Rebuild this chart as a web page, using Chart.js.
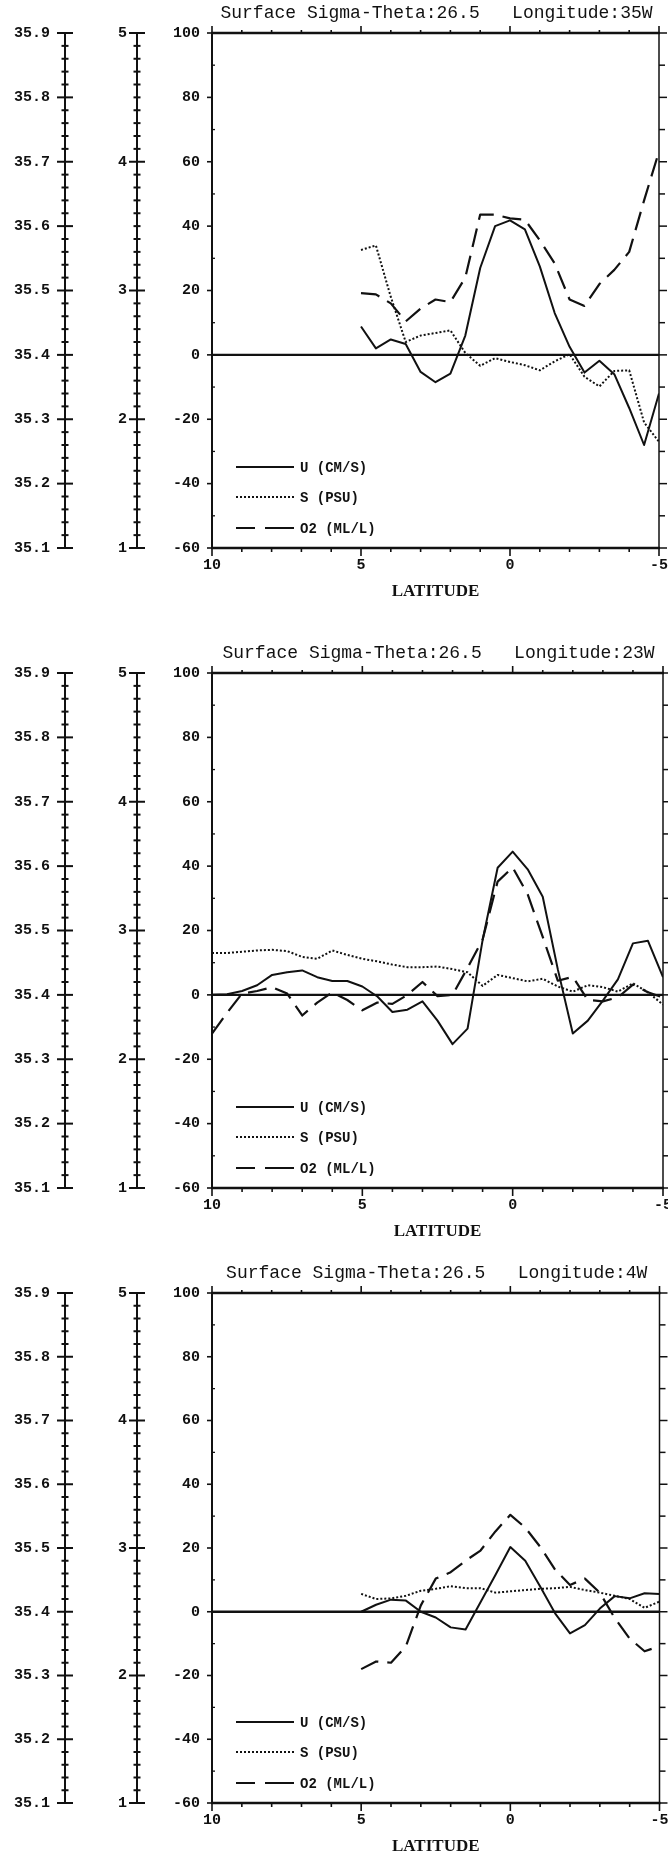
<!DOCTYPE html>
<html>
<head>
<meta charset="utf-8">
<script src="https://cdn.jsdelivr.net/npm/chart.js@4.4.1/dist/chart.umd.min.js"></script>
<style>
  html, body { margin: 0; padding: 0; background: #fff; }
  body { width: 668px; height: 1854px; position: relative; overflow: hidden; }
  canvas { position: absolute; left: 0; }
</style>
</head>
<body>
<canvas id="p35"></canvas>
<canvas id="p23"></canvas>
<canvas id="p4"></canvas>
<script>
// ---- Section at 35W (latitude in degrees, negative = south) ----
const lat35W = [5, 4.5, 4, 3.5, 3, 2.5, 2, 1.5, 1, 0.5, 0, -0.5, -1, -1.5, -2, -2.5, -3, -3.5, -4, -4.5, -5];
const u35W = [8.8, 2.0, 4.8, 3.4, -5.3, -8.5, -5.8, 6.0, 27, 40, 41.8, 39, 27.5, 13, 2.5, -5.5, -1.8, -6, -16.5, -28, -12];
const s35W = [35.563, 35.570, 35.490, 35.420, 35.430, 35.434, 35.438, 35.403, 35.383, 35.395, 35.389,
              35.384, 35.376, 35.390, 35.401, 35.366, 35.351, 35.375, 35.376, 35.295, 35.265];
const o35W = [2.98, 2.97, 2.90, 2.76, 2.86, 2.93, 2.91, 3.10, 3.59, 3.59, 3.56,
              3.55, 3.39, 3.21, 2.93, 2.88, 3.05, 3.16, 3.30, 3.70, 4.08];

// ---- Section at 23W ----
const lat23W = [10, 9.5, 9, 8.5, 8, 7.5, 7, 6.5, 6, 5.5, 5, 4.5, 4, 3.5, 3, 2.5, 2, 1.5, 1, 0.5, 0,
                -0.5, -1, -1.5, -2, -2.5, -3, -3.5, -4, -4.5, -5];
const u23W = [0, 0.2, 1.2, 3, 6.2, 7, 7.6, 5.5, 4.3, 4.3, 2.6, -0.5, -5.3, -4.6, -2, -8, -15.3, -10.5, 17, 39.5, 44.5,
              39, 30.5, 8, -12, -8, -1.8, 4.8, 16, 16.8, 5.5];
const s23W = [35.465, 35.465, 35.467, 35.469, 35.470, 35.468, 35.459, 35.456, 35.469, 35.462, 35.456,
              35.452, 35.447, 35.443, 35.443, 35.444, 35.440, 35.435, 35.414, 35.431, 35.426,
              35.421, 35.425, 35.413, 35.405, 35.415, 35.412, 35.405, 35.418, 35.404, 35.385];
const o23W = [2.20, 2.36, 2.51, 2.53, 2.56, 2.51, 2.34, 2.44, 2.52, 2.46, 2.38,
              2.44, 2.43, 2.50, 2.60, 2.49, 2.50, 2.71, 2.93, 3.38, 3.49,
              3.28, 2.95, 2.61, 2.64, 2.46, 2.45, 2.48, 2.58, 2.52, 2.48];

// ---- Section at 4W ----
const lat4W = [5, 4.5, 4, 3.5, 3, 2.5, 2, 1.5, 1, 0.5, 0, -0.5, -1, -1.5, -2, -2.5, -3, -3.5, -4, -4.5, -5];
const u4W = [0, 2.2, 3.8, 3.5, 0, -1.8, -4.9, -5.6, 3, 11.5, 20.3, 16, 7.9, -0.5, -6.8, -4.2, 1, 4.9, 4.2, 5.8, 5.6];
const s4W = [35.428, 35.420, 35.421, 35.425, 35.433, 35.436, 35.440, 35.437, 35.437, 35.430, 35.432,
             35.434, 35.436, 35.437, 35.439, 35.434, 35.430, 35.425, 35.420, 35.406, 35.416];
const o4W = [2.05, 2.11, 2.10, 2.23, 2.55, 2.76, 2.81, 2.90, 2.98, 3.13, 3.26,
             3.16, 3.01, 2.83, 2.71, 2.76, 2.65, 2.45, 2.29, 2.19, 2.23];

// ---- Axis ticks and labels ----
const latTicks = [10, 5, 0, -5];
const uTicks = [100, 80, 60, 40, 20, 0, -20, -40, -60];
const sTicks = [35.1, 35.2, 35.3, 35.4, 35.5, 35.6, 35.7, 35.8, 35.9];
const oTicks = [1, 2, 3, 4, 5];
const seriesLabels = ['U (CM/S)', 'S (PSU)', 'O2 (ML/L)'];
const titles = [
  'Surface Sigma-Theta:26.5   Longitude:35W',
  'Surface Sigma-Theta:26.5   Longitude:23W',
  'Surface Sigma-Theta:26.5   Longitude:4W'
];

const INK = '#111';
const MONO = "'Liberation Mono', 'DejaVu Sans Mono', monospace";
const tickFont = { family: MONO, size: 15, weight: 'bold' };
const PAD_TOP = 33, X_AXIS_H = 60, PAD_BOTTOM = 10;

function strokeLine(ctx, x1, y1, x2, y2, w) {
  ctx.lineWidth = w;
  ctx.beginPath();
  ctx.moveTo(x1, y1);
  ctx.lineTo(x2, y2);
  ctx.stroke();
}

// Stand-alone ruler axis with ticks crossing the spine
function ruler(ctx, scale, lo, hi, majorStep, minorPerMajor) {
  const x = scale.right - 8;
  const yTop = scale.getPixelForValue(hi), yBot = scale.getPixelForValue(lo);
  strokeLine(ctx, x, yTop - 1, x, yBot + 1, 2);
  const n = Math.round((hi - lo) / majorStep) * minorPerMajor;
  for (let i = 0; i <= n; i++) {
    const v = lo + i * majorStep / minorPerMajor;
    const y = scale.getPixelForValue(v);
    const half = (i % minorPerMajor === 0) ? 8 : 3.5;
    strokeLine(ctx, x - half, y, x + half, y, 2);
  }
}

const framePlugin = {
  id: 'sectionFrame',
  beforeDatasetsDraw(chart) {
    const { ctx, chartArea: a, scales } = chart;
    const xs = scales.x, yu = scales.y;
    ctx.save();
    ctx.strokeStyle = INK;
    ctx.lineCap = 'butt';
    // plot frame
    strokeLine(ctx, a.left - 1, a.top, a.right + 1, a.top, 2.6);
    strokeLine(ctx, a.left - 1, a.bottom, a.right + 1, a.bottom, 2.6);
    strokeLine(ctx, a.left, a.top, a.left, a.bottom, 2);
    strokeLine(ctx, a.right, a.top, a.right, a.bottom, 1.5);
    // zero velocity line
    const y0 = yu.getPixelForValue(0);
    strokeLine(ctx, a.left, y0, a.right, y0, 2.4);
    // latitude ticks, one per degree
    for (let d = -5; d <= 10; d++) {
      const x = xs.getPixelForValue(d);
      const major = d % 5 === 0;
      strokeLine(ctx, x, a.top, x, a.top - (major ? 7 : 3), 1.6);
      strokeLine(ctx, x, a.bottom, x, a.bottom + (major ? 8 : 4), 1.6);
    }
    // velocity ticks on both sides
    for (let v = -60; v <= 100; v += 10) {
      const y = yu.getPixelForValue(v);
      const major = v % 20 === 0;
      if (major) strokeLine(ctx, a.left - 5, y, a.left, y, 1.6);
      else strokeLine(ctx, a.left, y, a.left + 3, y, 1.3);
      strokeLine(ctx, a.right, y, a.right + (major ? 8 : 6), y, 1.5);
    }
    // salinity and oxygen rulers
    ruler(ctx, scales.yS, 35.1, 35.9, 0.1, 5);
    ruler(ctx, scales.yO, 1, 5, 1, 10);
    ctx.restore();
  },
  afterDraw(chart, args, opts) {
    const { ctx, chartArea: a } = chart;
    ctx.save();
    ctx.fillStyle = INK;
    ctx.strokeStyle = INK;
    // section title
    ctx.font = "18px " + MONO;
    ctx.textAlign = 'center';
    ctx.textBaseline = 'middle';
    ctx.fillText(opts.text, (a.left + a.right) / 2 + 1, a.top - 20);
    // legend in the lower left corner
    const offs = [81, 51, 20];
    ctx.font = "bold 14px " + MONO;
    ctx.textAlign = 'left';
    chart.data.datasets.forEach((ds, i) => {
      const y = a.bottom - offs[i];
      ctx.setLineDash(ds.legendDash || ds.borderDash || []);
      strokeLine(ctx, a.left + 24, y, a.left + 82, y, ds.borderWidth);
      ctx.setLineDash([]);
      ctx.fillText(ds.label, a.left + 88, y + 1);
    });
    ctx.restore();
  }
};

function makeSection(id, title, lat, u, s, o, top, plotH, padRight) {
  const canvas = document.getElementById(id);
  canvas.width = 668;
  canvas.height = PAD_TOP + plotH + X_AXIS_H + PAD_BOTTOM;
  canvas.style.top = top + 'px';
  const pts = vals => lat.map((x, i) => ({ x: x, y: vals[i] }));
  const fixedTicks = list => scale => { scale.ticks = list.map(v => ({ value: v })); };
  const noGrid = { display: false, drawTicks: false };

  new Chart(canvas, {
    type: 'line',
    data: {
      datasets: [
        { label: seriesLabels[0], data: pts(u), yAxisID: 'y', borderColor: INK, borderWidth: 2, borderDash: [] },
        { label: seriesLabels[1], data: pts(s), yAxisID: 'yS', borderColor: INK, borderWidth: 2, borderDash: [2, 2] },
        { label: seriesLabels[2], data: pts(o), yAxisID: 'yO', borderColor: INK, borderWidth: 2.2,
          borderDash: [19, 9], legendDash: [19, 10, 40, 0] }
      ]
    },
    options: {
      responsive: false,
      animation: false,
      devicePixelRatio: 1,
      layout: { padding: { top: PAD_TOP, bottom: PAD_BOTTOM, left: 0, right: padRight } },
      elements: {
        point: { radius: 0 },
        line: { tension: 0, fill: false, borderCapStyle: 'butt', borderJoinStyle: 'round' }
      },
      plugins: {
        legend: { display: false },
        tooltip: { enabled: false },
        title: { display: false },
        sectionFrame: { text: title }
      },
      scales: {
        x: {
          type: 'linear', position: 'bottom', min: -5, max: 10, reverse: true,
          afterBuildTicks: fixedTicks(latTicks),
          afterFit: sc => { sc.height = X_AXIS_H; sc.paddingLeft = 0; sc.paddingRight = 0; },
          grid: noGrid, border: { display: false },
          ticks: { color: INK, font: tickFont, padding: 8, maxRotation: 0, autoSkip: false,
                   callback: v => String(v) },
          title: { display: true, text: 'LATITUDE', color: INK,
                   font: { family: "'Liberation Serif', serif", size: 17, weight: 'bold' },
                   padding: { top: 0, bottom: 6 } }
        },
        y: {
          type: 'linear', position: 'left', weight: 0, min: -60, max: 100,
          afterBuildTicks: fixedTicks(uTicks),
          afterFit: sc => { sc.width = 67; sc.paddingTop = 0; sc.paddingBottom = 0; },
          grid: noGrid, border: { display: false },
          ticks: { color: INK, font: tickFont, padding: 12, callback: v => String(v) }
        },
        yO: {
          type: 'linear', position: 'left', weight: 1, min: 1, max: 5,
          afterBuildTicks: fixedTicks(oTicks),
          afterFit: sc => { sc.width = 72; sc.paddingTop = 0; sc.paddingBottom = 0; },
          grid: noGrid, border: { display: false },
          ticks: { color: INK, font: tickFont, padding: 18, callback: v => String(v) }
        },
        yS: {
          type: 'linear', position: 'left', weight: 2, min: 35.1, max: 35.9,
          afterBuildTicks: fixedTicks(sTicks),
          afterFit: sc => { sc.width = 73; sc.paddingTop = 0; sc.paddingBottom = 0; },
          grid: noGrid, border: { display: false },
          ticks: { color: INK, font: tickFont, padding: 23, callback: v => v.toFixed(1) }
        }
      }
    },
    plugins: [framePlugin]
  });
}

makeSection('p35', titles[0], lat35W, u35W, s35W, o35W, 0, 515, 9);
makeSection('p23', titles[1], lat23W, u23W, s23W, o23W, 640, 515, 5);
makeSection('p4', titles[2], lat4W, u4W, s4W, o4W, 1260, 510, 8.5);
</script>
</body>
</html>
